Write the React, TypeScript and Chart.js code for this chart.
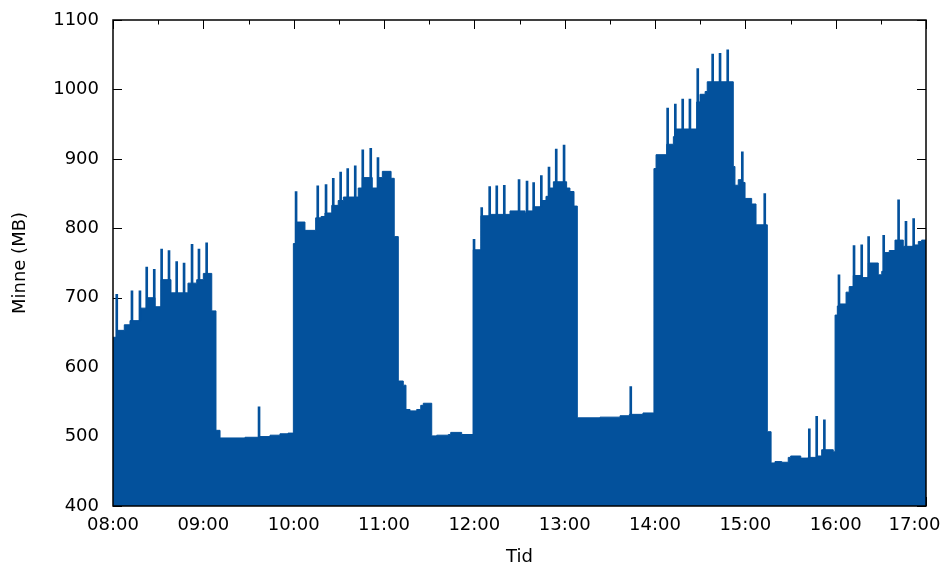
import React, { useEffect, useRef } from 'react';
import { Chart, registerables } from 'chart.js';

Chart.register(...registerables);

// Time axis: minutes after 08:00, labelled every hour.
const tickLabels = ['08:00', '09:00', '10:00', '11:00', '12:00', '13:00', '14:00', '15:00', '16:00', '17:00'];

// Memory level (MB) held from each listed minute until the next one.
const stepMinutes = [
  0, 2.5, 7.5, 11.3, 18.6, 22.4, 27.9, 31.9, 38.5, 49.8, 55.6, 60.0, 65.6, 68.4,
  71.1, 87.7, 97.0, 104.3, 110.9, 116.2,
  119.8, 121.2, 127.5, 134.6, 138.2, 140.8, 145.3, 149.6, 153.0, 162.9, 165.6, 172.2, 175.8, 178.9, 184.7, 186.8,
  189.5, 192.8, 194.6, 197.3, 201.7, 204.4, 206.1, 211.7, 215.0, 222.7, 224.3, 231.6,
  239.3, 244.4, 250.4, 263.7, 273.7, 275.2, 279.2, 284.8, 287.6, 289.6, 292.5, 301.3, 303.5, 306.2,
  308.4, 323.5, 336.8, 343.0, 352.0,
  359.3, 360.7, 367.8, 372.2, 373.8, 387.7, 389.9, 393.3, 394.7,
  412.0, 413.1, 415.3, 417.6, 419.8, 424.2, 427.1,
  434.6, 437.1, 439.7, 444.2, 448.5, 450.1, 456.8, 461.8, 467.4, 470.7, 478.4,
  479.6, 481.1, 482.9, 486.9, 489.0, 491.7, 497.3, 501.7, 508.3, 510.6, 512.8, 515.6, 519.4, 524.9, 531.6, 534.9, 537.1, 540,
];

const stepMB = [
  643, 653, 661, 667, 685, 700, 687, 726, 707, 721, 726, 735, 681, 509,
  498, 499, 500, 502, 504, 505,
  778, 809, 797, 815, 817, 822, 833, 840, 845, 858, 873, 858, 873, 882, 872, 788,
  580, 574, 539, 537, 539, 545, 548, 501, 502, 503, 506, 503,
  769, 818, 820, 825, 822, 825, 831, 840, 846, 858, 867, 858, 853, 832,
  527, 528, 530, 532, 534,
  886, 906, 921, 932, 943, 982, 993, 997, 1011,
  889, 862, 870, 866, 843, 835, 805,
  507, 462, 464, 463, 470, 472, 469, 470, 472, 481, 478,
  675, 688, 691, 708, 716, 732, 729, 750, 733, 738, 765, 768, 783, 774, 776, 781, 783, 783,
];

// Short-lived peaks (MB) on top of the level.
const spikeMinutes = [
  2.5, 12.6, 17.9, 22.4, 27.4, 32.3, 37.2, 42.3, 47.2, 52.5, 57.1, 62.2,
  97.0,
  121.6, 136.0, 141.5, 146.3, 151.2, 155.9, 160.9, 165.9, 171.2, 176.0,
  239.8, 244.9, 250.2, 254.9, 259.9, 269.7, 275.0, 279.4, 284.5, 289.6, 294.4, 299.6,
  343.9,
  368.4, 373.5, 378.4, 383.2, 388.4, 398.3, 403.2, 408.3, 418.0, 432.9,
  462.5, 467.4, 472.5,
  482.2, 492.2, 497.3, 501.9, 511.9, 521.8, 526.7, 531.8,
];

const spikeMB = [
  705, 710, 710, 744, 741, 770, 768, 752, 750, 777, 770, 779,
  543,
  853, 861, 863, 872, 881, 886, 890, 913, 915, 902,
  784, 830, 860, 861, 862, 870, 868, 866, 876, 888, 914, 920,
  572,
  973, 979, 986, 986, 1030, 1051, 1052, 1057, 910, 850,
  511, 529, 524,
  733, 775, 776, 788, 790, 841, 810, 814,
];

const Y_MIN = 400;
const Y_MAX = 1100;
const FILL = '#03519c';
const FONT = 'DejaVu Sans';

// Inward tick marks behind the data, black frame on top of it.
const framePlugin = {
  id: 'plotFrame',
  beforeDatasetsDraw(chart: any) {
    const { ctx, chartArea: a, scales } = chart;
    const xs = scales.x;
    const ys = scales.y;
    ctx.save();
    ctx.strokeStyle = '#000';
    ctx.lineWidth = 1;
    ctx.beginPath();
    for (let v = Y_MIN; v <= Y_MAX; v += 100) {
      const py = Math.round(ys.getPixelForValue(v)) + 0.5;
      ctx.moveTo(a.left, py);
      ctx.lineTo(a.left + 9, py);
      ctx.moveTo(a.right, py);
      ctx.lineTo(a.right - 9, py);
    }
    for (let m = 0; m <= 540; m += 30) {
      const px = Math.round(xs.getPixelForValue(m)) + 0.5;
      const len = m % 60 === 0 ? 9 : 4.5;
      ctx.moveTo(px, a.top);
      ctx.lineTo(px, a.top + len);
      ctx.moveTo(px, a.bottom);
      ctx.lineTo(px, a.bottom - len);
    }
    ctx.stroke();
    ctx.restore();
  },
  afterDatasetsDraw(chart: any) {
    const { ctx, chartArea: a } = chart;
    ctx.save();
    ctx.strokeStyle = '#000';
    ctx.lineWidth = 1.5;
    ctx.strokeRect(a.left, a.top, a.right - a.left, a.bottom - a.top);
    ctx.restore();
  },
};

export default function App() {
  const canvasRef = useRef<HTMLCanvasElement | null>(null);

  useEffect(() => {
    const canvas = canvasRef.current;
    if (!canvas) return;

    const levels = stepMinutes.map((m, i) => ({ x: m, y: stepMB[i] }));
    const spikes = spikeMinutes.map((m, i) => ({ x: m, y: spikeMB[i] }));
    const lastTick = tickLabels.length - 1;

    const chart = new Chart(canvas, {
      type: 'line',
      data: {
        datasets: [
          {
            type: 'line',
            data: levels,
            stepped: 'before',
            fill: 'start',
            backgroundColor: FILL,
            borderColor: FILL,
            borderWidth: 1,
            pointRadius: 0,
          },
          {
            type: 'bar',
            data: spikes,
            backgroundColor: FILL,
            barThickness: 2,
            borderWidth: 0,
          },
        ],
      } as any,
      options: {
        animation: false,
        responsive: false,
        events: [],
        layout: { padding: { top: 20, right: 18, left: 0, bottom: 0 } },
        plugins: {
          legend: { display: false },
          tooltip: { enabled: false },
        },
        scales: {
          x: {
            type: 'linear',
            min: 0,
            max: 540,
            offset: false,
            grid: { display: false, drawTicks: false },
            border: { display: false },
            ticks: {
              stepSize: 60,
              autoSkip: false,
              maxRotation: 0,
              padding: 9,
              color: '#000',
              font: { family: FONT, size: 18 },
              callback: (v: any) => {
                const i = Math.round(Number(v) / 60);
                const label = tickLabels[i] ?? '';
                // keep the last label inside the canvas edge
                return i === lastTick ? label + '    ' : label;
              },
            },
            title: {
              display: true,
              text: 'Tid',
              color: '#000',
              font: { family: FONT, size: 18 },
              padding: { top: 0, bottom: 0 },
            },
            afterFit: (s: any) => {
              s.height = 62;
              s.paddingLeft = 0;
              s.paddingRight = 0;
            },
          },
          y: {
            type: 'linear',
            min: Y_MIN,
            max: Y_MAX,
            grid: { display: false, drawTicks: false },
            border: { display: false },
            ticks: {
              stepSize: 100,
              padding: 14,
              color: '#000',
              font: { family: FONT, size: 18 },
              callback: (v: any) => String(v),
            },
            title: {
              display: true,
              text: 'Minne (MB)',
              color: '#000',
              font: { family: FONT, size: 18 },
              padding: { top: 10, bottom: 0 },
            },
            afterFit: (s: any) => {
              s.width = 113;
              s.paddingTop = 0;
              s.paddingBottom = 0;
            },
          },
        },
      } as any,
      plugins: [framePlugin],
    });

    return () => chart.destroy();
  }, []);

  return (
    <div style={{ position: 'absolute', left: 0, top: 0, width: 944, height: 568, background: '#fff' }}>
      <canvas ref={canvasRef} width={944} height={568} style={{ display: 'block' }} />
    </div>
  );
}
